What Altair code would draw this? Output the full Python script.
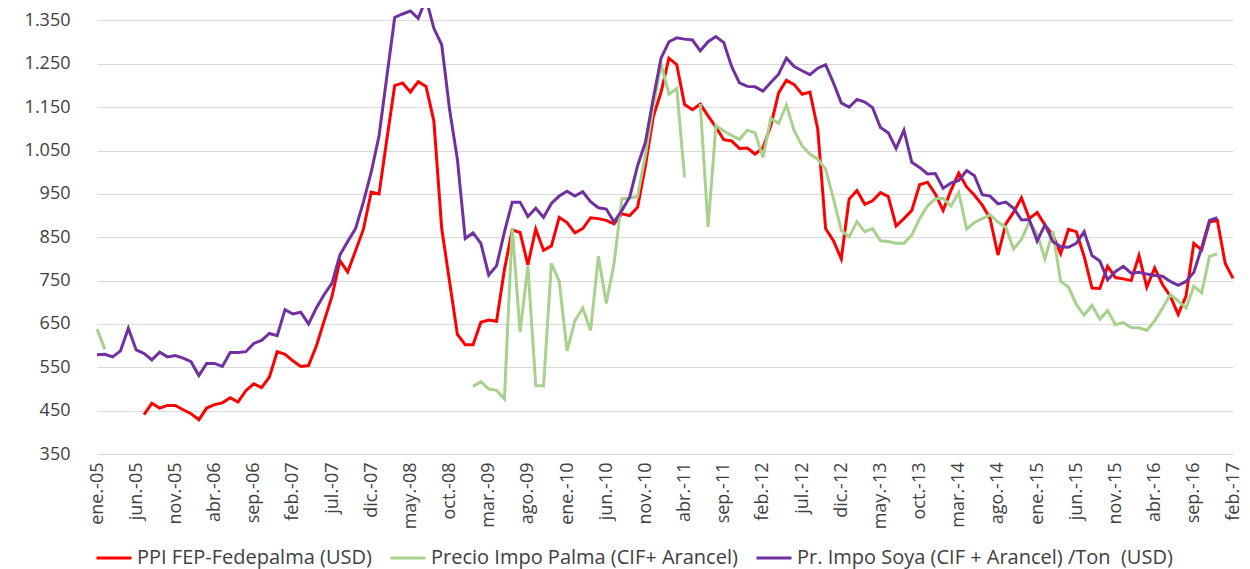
import json
import altair as alt
import pandas as pd

month_abbr = ["ene", "feb", "mar", "abr", "may", "jun", "jul", "ago", "sep", "oct", "nov", "dic"]
months = [f"{month_abbr[m]}.-{str(y)[2:]}" for y in range(2005, 2018) for m in range(12)][:146]
tick_labels = months[::5]

series_names = [
    "PPI FEP-Fedepalma (USD)",
    "Precio Impo Palma (CIF+ Arancel)",
    "Pr. Impo Soya (CIF + Arancel) /Ton \u00a0(USD)",
]
series_colors = ["#FF0000", "#A9D18E", "#7030A0"]

N = None
ppi = [N, N, N, N, N, N, 441, 467, 456, 462, 462, 452, 443, 429, 456, 464, 468, 480, 470, 496,
       512, 503, 527, 586, 580, 565, 552, 554, 599, 657, 714, 796, 770, 819, 868, 954, 950, 1076, 1200, 1206,
       1185, 1209, 1198, 1118, 870, 748, 626, 602, 602, 654, 659, 656, 775, 867, 861, 786, 869, 820, 830, 896,
       884, 860, 870, 895, 893, 889, 881, 904, 900, 919, 1015, 1128, 1185, 1263, 1248, 1156, 1144, 1157, 1130, 1104,
       1075, 1072, 1055, 1056, 1042, 1056, 1107, 1183, 1212, 1202, 1180, 1185, 1099, 870, 842, 800, 938, 958, 926, 934,
       953, 944, 876, 893, 912, 971, 977, 950, 912, 958, 998, 966, 947, 924, 893, 809, 881, 908, 941, 893,
       907, 878, 855, 812, 868, 863, 806, 733, 732, 783, 757, 754, 750, 808, 735, 779, 741, 714, 672, 714,
       836, 821, 885, 889, 790, 755]

palma = [638, 592, N, N, N, N, N, N, N, N, N, N, N, N, N, N, N, N, N, N,
         N, N, N, N, N, N, N, N, N, N, N, N, N, N, N, N, N, N, N, N,
         N, N, N, N, N, N, N, N, 506, 517, 500, 497, 477, 872, 631, 783, 508, 507, 790, 748,
         588, 657, 687, 635, 806, 697, 790, 939, 940, 944, 1040, 1150, 1250, 1180, 1193, 988, N, 1157, 874, 1108,
         1095, 1085, 1076, 1097, 1091, 1034, 1124, 1113, 1155, 1095, 1061, 1042, 1030, 1007, 939, 866, 851, 886, 863, 870,
         842, 840, 836, 836, 855, 893, 922, 939, 940, 922, 953, 869, 884, 893, 902, 885, 873, 823, 845, 885,
         858, 800, 864, 748, 735, 695, 670, 693, 661, 681, 648, 653, 642, 641, 635, 657, 686, 718, 703, 687,
         737, 722, 806, 812, N, N]

soya = [579, 580, 574, 588, 640, 590, 582, 567, 585, 574, 577, 571, 563, 531, 559, 559, 552, 584, 584, 586,
        605, 612, 628, 623, 683, 673, 677, 650, 687, 718, 744, 809, 840, 870, 931, 1000, 1084, 1221, 1357, 1365,
        1372, 1355, 1400, 1332, 1294, 1145, 1030, 847, 860, 836, 763, 784, 862, 931, 931, 898, 917, 896, 928, 945,
        956, 945, 955, 932, 918, 915, 885, 912, 943, 1015, 1069, 1170, 1263, 1301, 1310, 1307, 1305, 1280, 1301, 1313,
        1299, 1244, 1206, 1198, 1197, 1187, 1207, 1226, 1263, 1244, 1234, 1225, 1240, 1248, 1206, 1160, 1150, 1168, 1162, 1149,
        1103, 1091, 1055, 1097, 1023, 1011, 996, 997, 963, 975, 981, 1004, 992, 948, 945, 927, 931, 917, 890, 891,
        841, 879, 840, 828, 827, 836, 863, 808, 795, 752, 771, 783, 767, 769, 765, 762, 760, 748, 739, 748,
        769, 826, 889, 895, N, N]

y_ticks = [350, 450, 550, 650, 750, 850, 950, 1050, 1150, 1250, 1350]

rows = []
for name, vals in zip(series_names, [ppi, palma, soya]):
    for m, v in zip(months, vals):
        rows.append({"month": m, "series": name, "value": v})
df = pd.DataFrame(rows)

FONT = "Open Sans"
TXT = "#404040"

chart = (
    alt.Chart(df)
    .mark_line(strokeWidth=3, clip=False, invalid="break-paths-show-domains")
    .encode(
        x=alt.X(
            "month:O",
            sort=months,
            scale=alt.Scale(type="point", padding=0),
            axis=alt.Axis(
                values=tick_labels,
                labelAngle=270,
                labelAlign="right",
                labelBaseline="middle",
                labelPadding=8,
                labelFontSize=18,
                labelFont=FONT,
                labelColor=TXT,
                domain=False,
                ticks=False,
                grid=False,
                title=None,
                labelOverlap=False,
            ),
        ),
        y=alt.Y(
            "value:Q",
            scale=alt.Scale(domain=[350, 1369.6], nice=False, zero=False),
            axis=alt.Axis(
                values=y_ticks,
                labelExpr="replace(format(datum.value, ','), ',', '.')",
                labelPadding=27,
                labelFontSize=18,
                labelFont=FONT,
                labelColor=TXT,
                domain=False,
                ticks=False,
                grid=True,
                gridColor="#D9D9D9",
                gridWidth=1,
                title=None,
            ),
        ),
        color=alt.Color(
            "series:N",
            sort=series_names,
            scale=alt.Scale(domain=series_names, range=series_colors),
            legend=alt.Legend(
                title=None,
                orient="none",
                direction="horizontal",
                legendX=-2,
                legendY=527,
                symbolType="stroke",
                symbolSize=1225,
                symbolStrokeWidth=3,
                labelFontSize=20,
                labelFont=FONT,
                labelColor=TXT,
                labelLimit=600,
                labelOffset=4,
                columnPadding=12,
                padding=0,
            ),
        ),
    )
    .properties(
        width=1136,
        height=442,
        autosize=alt.AutoSizeParams(type="none"),
        padding={"left": 89, "top": 4, "right": 9, "bottom": 115},
    )
    .configure_view(strokeWidth=0)
)

chart.save("out.html", embed_options={"renderer": "svg", "actions": False})
